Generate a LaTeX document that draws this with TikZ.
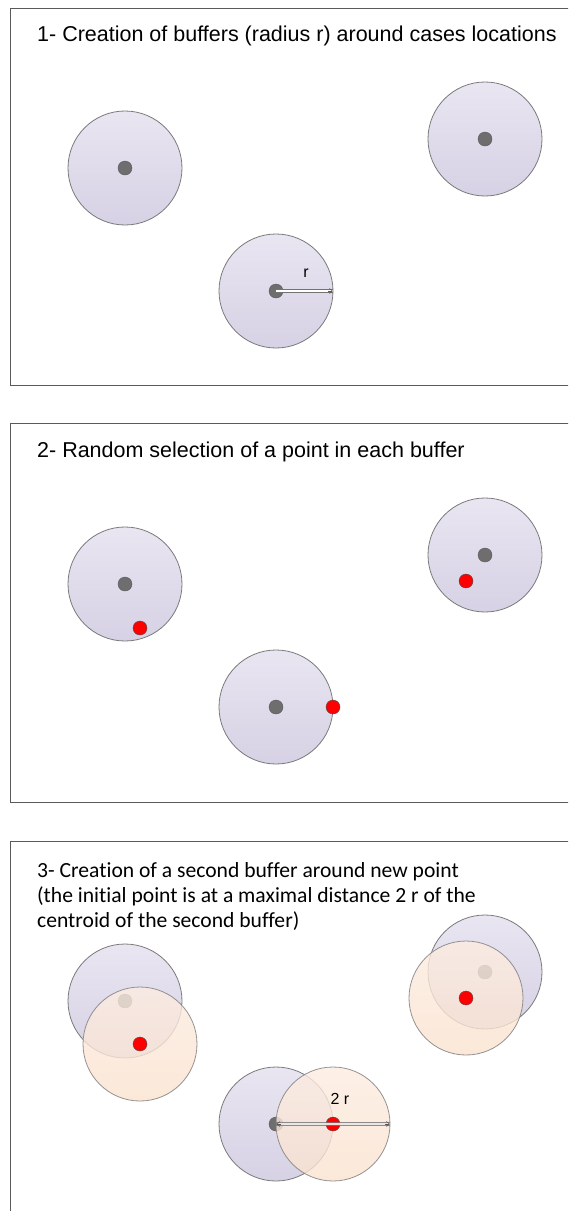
\documentclass[tikz,border=0pt]{standalone}
\usepackage{fontspec}
\setmainfont[Ligatures=NoCommon]{Liberation Sans}
\newfontfamily\calib[Ligatures=NoCommon]{Carlito}
\usetikzlibrary{arrows.meta}
\definecolor{lavtop}{HTML}{E9E6F2}
\definecolor{lavbot}{HTML}{D6D1E4}
\definecolor{ortop}{HTML}{FCECE1}
\definecolor{orbot}{HTML}{FAE2CF}
\definecolor{panelline}{HTML}{5A5A5A}
\definecolor{bufline}{HTML}{7A7A7A}
\definecolor{dotgray}{HTML}{6E6E6E}
\begin{document}
\begin{tikzpicture}[x=1pt,y=-1pt,
  panel/.style={draw=panelline, line width=0.8pt},
  buf/.style={circle, draw=bufline, line width=0.8pt, minimum size=114pt, inner sep=0pt, top color=lavtop, bottom color=lavbot},
  obuf/.style={circle, draw=bufline, line width=0.8pt, minimum size=114pt, inner sep=0pt, top color=ortop, bottom color=orbot, opacity=0.8},
  gdot/.style={circle, draw=black!65, fill=dotgray, minimum size=14pt, inner sep=0pt},
  rdot/.style={circle, draw=black!70, fill=red, minimum size=14pt, inner sep=0pt},
  title/.style={anchor=base west, inner sep=0pt, font=\fontsize{21.5}{25}\selectfont},
  title3/.style={anchor=base west, inner sep=0pt, font=\calib\fontsize{21.6}{25}\selectfont},
  lbl/.style={inner sep=0pt, font=\fontsize{16}{18}\selectfont},
  dimout/.style={draw=black!55, line width=3.6pt},
  dimin/.style={draw=white, line width=2.2pt},
  dimtip/.style={draw=black!65, line width=0.6pt, -{Straight Barb[length=3pt,width=5pt]}}
]
\useasboundingbox (0,0) rectangle (568,1211);
\clip (0,0) rectangle (568,1211);

% ---------- panel 1
\draw[panel] (10,8) rectangle (590,385);
\node[title] (t1) at (37,41) {1- Creation of buffers (radius r) around cases locations};
\node[buf] (a1) at (125,168) {};
\node[buf] (b1) at (485,139) {};
\node[buf] (c1) at (276,291) {};
\node[gdot] (ga1) at (a1.center) {};
\node[gdot] (gb1) at (b1.center) {};
\node[gdot] (gc1) at (c1.center) {};
\draw[dimout] (gc1.center) -- (c1.east);
\draw[dimin] (gc1.center) -- ([xshift=-0.5pt]c1.east);
\draw[dimtip] ([xshift=-5pt]c1.east) -- ([xshift=-0.5pt]c1.east);
\node[lbl] (r1) at (306,273) {r};

% ---------- panel 2
\draw[panel] (10,423) rectangle (590,802);
\node[title] (t2) at (37,457) {2- Random selection of a point in each buffer};
\node[buf] (a2) at (125,584) {};
\node[buf] (b2) at (485,555) {};
\node[buf] (c2) at (276,707) {};
\node[gdot] (ga2) at (a2.center) {};
\node[gdot] (gb2) at (b2.center) {};
\node[gdot] (gc2) at (c2.center) {};
\node[rdot] (ra2) at (140,628) {};
\node[rdot] (rb2) at (466,581) {};
\node[rdot] (rc2) at (333,707) {};

% ---------- panel 3
\draw[panel] (10,841) rectangle (590,1240);
\node[title3] (t3a) at (37,877) {3- Creation of a second buffer around new point};
\node[title3] (t3b) at (37,902) {(the initial point is at a maximal distance 2 r of the};
\node[title3] (t3c) at (37,927) {centroid of the second buffer)};
\node[buf] (a3) at (125,1001) {};
\node[buf] (b3) at (485,972) {};
\node[buf] (c3) at (276,1124) {};
\node[gdot] (ga3) at (a3.center) {};
\node[gdot] (gb3) at (b3.center) {};
\node[gdot] (gc3) at (c3.center) {};
\node[obuf] (oa3) at (140,1044) {};
\node[obuf] (ob3) at (466,998) {};
\node[obuf] (oc3) at (333,1124) {};
\node[rdot] (ra3) at (oa3.center) {};
\node[rdot] (rb3) at (ob3.center) {};
\node[rdot] (rc3) at (oc3.center) {};
\begin{scope}[opacity=0.8]
\draw[dimout] (gc3.center) -- (oc3.east);
\draw[dimin] ([xshift=0.5pt]gc3.center) -- ([xshift=-0.5pt]oc3.east);
\end{scope}
\draw[dimtip] ([xshift=-5pt]oc3.east) -- ([xshift=-0.5pt]oc3.east);
\draw[dimtip] ([xshift=5pt]gc3.center) -- ([xshift=0.5pt]gc3.center);
\node[lbl] (r3) at (340,1099) {2 r};
\end{tikzpicture}
\end{document}
